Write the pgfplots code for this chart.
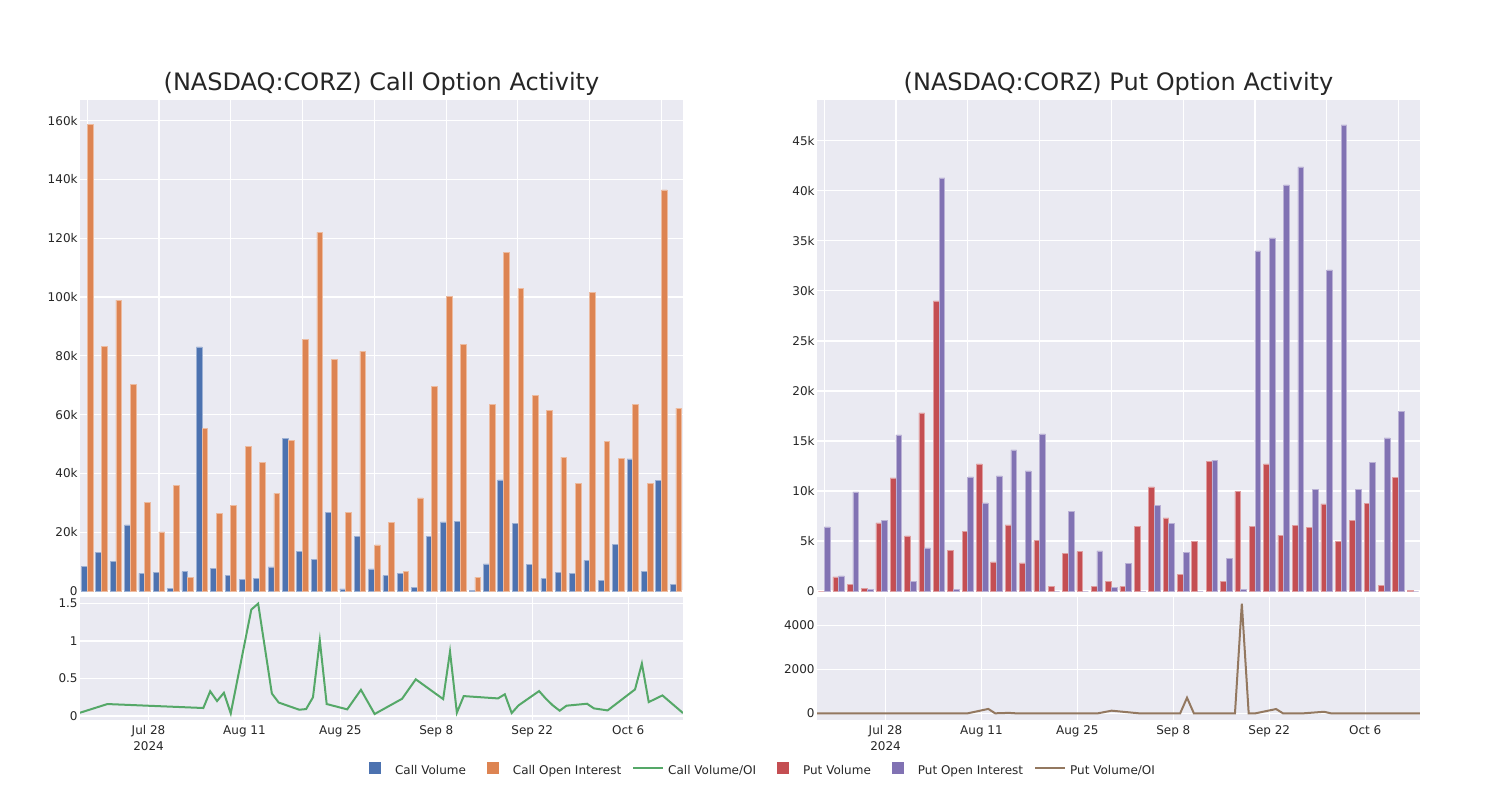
\documentclass[border=0pt]{standalone}
\usepackage{pgfplots}
\usepackage{pgfplotstable}
\pgfplotsset{compat=1.18}
\usepackage{fontspec}
\setmainfont{DejaVu Sans}

\definecolor{cvol}{HTML}{4C72B0}
\definecolor{coi}{HTML}{DD8452}
\definecolor{cratio}{HTML}{55A868}
\definecolor{pvol}{HTML}{C44E52}
\definecolor{poi}{HTML}{8172B3}
\definecolor{pratio}{HTML}{937860}
\definecolor{bg}{HTML}{EAEAF2}
\definecolor{txt}{HTML}{262626}

% one row per trading day (category index), counts of contracts
\pgfplotstableread{
cat cvol coi pvol poi
0 8300 158800 0 6400
1 13200 83200 1400 1500
2 10100 98900 700 9900
3 22500 70200 230 130
4 6000 30100 6800 7070
5 6200 20100 11300 15600
6 1000 35900 5500 1000
7 6600 4500 17800 4300
8 83000 55400 29000 41300
9 7800 26500 4070 170
10 5200 29000 5970 11400
11 4000 49200 12700 8800
12 4200 43700 2900 11500
13 8200 33200 6600 14100
14 52000 51200 2800 12000
15 13500 85700 5070 15700
16 10800 122000 430 0
17 26600 78900 3770 7970
18 700 26800 3930 0
19 18600 81600 430 4000
20 7500 15700 930 370
21 5200 23400 430 2770
22 5900 6800 6430 0
23 1200 31700 10400 8570
24 18500 69600 7300 6730
25 23500 100200 1630 3870
26 23700 83800 4930 0
27 100 4700 12970 13070
28 9200 63400 970 3270
29 37800 115100 9970 130
30 23100 102900 6430 34000
31 9000 66500 12700 35300
32 4200 61500 5570 40600
33 6200 45500 6530 42400
34 5900 36500 6330 10130
35 10400 101500 8700 32100
36 3600 50800 4930 46600
37 15800 45000 7070 10170
38 44900 63600 8730 12870
39 6600 36700 600 15300
40 37600 136400 11370 17970
41 2300 62200 30 0
}\bars

% day = days after Jul 28 2024
\pgfplotstableread{
day cratio pratio
-10 0.044 0
-6 0.16 0
8 0.107 0
9 0.33 0
10 0.20 0
11 0.31 0
12 0.035 0
15 1.42 200
16 1.50 0
18 0.30 20
19 0.18 0
22 0.084 0
23 0.093 0
24 0.25 0
25 1.01 0
26 0.16 0
29 0.089 0
31 0.35 0
33 0.027 120
37 0.23 0
39 0.49 0
43 0.226 0
44 0.86 710
45 0.044 0
46 0.266 0
51 0.235 0
52 0.29 5000
53 0.04 0
54 0.142 0
57 0.333 195
58 0.23 0
59 0.142 0
60 0.071 0
61 0.138 0
64 0.164 70
65 0.102 0
67 0.075 0
71 0.355 0
72 0.70 0
73 0.186 0
75 0.275 0
78 0.04 0
}\ratios

\pgfplotsset{
  panel/.style={
    scale only axis, width=301.5pt,
    axis background/.style={fill=bg},
    axis line style={draw=none},
    grid=major, major grid style={white, line width=0.6pt},
    major tick length=0pt, tick style={draw=none},
    scaled y ticks=false,
    ticklabel style={font=\fontsize{6}{8}\selectfont, text=txt},
    yticklabel style={inner xsep=1pt},
    xticklabel style={inner ysep=2.5pt, align=center},
    title style={at={(0.5,1)}, anchor=center, yshift=2pt,
      font=\fontsize{12}{14}\selectfont, text=txt},
  },
  top/.style={panel, height=245.5pt, xmin=-0.5, xmax=41.5, ymin=0,
    xtick={0,5,...,40}, xticklabels={}},
  bottom/.style={panel, height=61.5pt, xmin=-10, xmax=78,
    xtick={0,14,28,42,56,70},
    xticklabels={{Jul 28\\2024},Aug 11,Aug 25,Sep 8,Sep 22,Oct 6}},
  barL/.style={ybar, bar width=0.4, bar shift=-0.2, line width=0.3pt},
  barR/.style={ybar, bar width=0.4, bar shift=0.2, line width=0.3pt},
  sqleg/.style={legend image code/.code={
    \path[draw=none, fill=none] (0pt,0pt) -- (20pt,0pt);
    \fill[draw=none, fill=#1] (7pt,-3pt) rectangle (13pt,3pt);}},
  lnleg/.style={legend image code/.code={
    \path[draw=none, fill=none] (0pt,0pt) -- (20pt,0pt);
    \draw[draw=#1, fill=none, line width=1pt] (2.5pt,0pt) -- (17.5pt,0pt);}},
}

\begin{document}
\begin{tikzpicture}
\useasboundingbox (0,0) rectangle (750pt,400pt);

\begin{axis}[top, at={(40pt,104.5pt)}, anchor=south west, ymax=167000,
  ytick={0,20000,...,160000},
  yticklabels={0,20k,40k,60k,80k,100k,120k,140k,160k},
  title={(NASDAQ:CORZ) Call Option Activity}]
\addplot[barL, fill=cvol, draw=cvol!55!white] table[x=cat,y=cvol]{\bars};
\addplot[barR, fill=coi, draw=coi!55!white] table[x=cat,y=coi]{\bars};
\end{axis}

\begin{axis}[bottom, at={(40pt,40pt)}, anchor=south west,
  ymin=-0.053, ymax=1.588, ytick={0,0.5,1,1.5},
  yticklabels={0,0.5,1,1.5}]
\addplot[cratio, line width=1pt] table[x=day,y=cratio]{\ratios};
\end{axis}

\begin{axis}[top, at={(408.5pt,104.5pt)}, anchor=south west, ymax=49080,
  ytick={0,5000,...,45000},
  yticklabels={0,5k,10k,15k,20k,25k,30k,35k,40k,45k},
  title={(NASDAQ:CORZ) Put Option Activity}]
\addplot[barL, fill=pvol, draw=pvol!55!white] table[x=cat,y=pvol]{\bars};
\addplot[barR, fill=poi, draw=poi!55!white] table[x=cat,y=poi]{\bars};
\end{axis}

\begin{axis}[bottom, at={(408.5pt,40pt)}, anchor=south west,
  ymin=-305, ymax=5300, ytick={0,2000,4000},
  yticklabels={0,2000,4000},
  legend columns=6,
  legend style={at={(rel axis cs:-0.1028,-0.39)}, anchor=center,
    draw=none, fill=none, font=\fontsize{6}{7}\selectfont, text=txt,
    /tikz/every even column/.append style={column sep=3.5pt},
    nodes={inner xsep=0pt, text height=1.6ex, text depth=0.4ex}},
  legend cell align=left]
\addplot[pratio, line width=1pt, forget plot] table[x=day,y=pratio]{\ratios};
\addlegendimage{sqleg=cvol}
\addlegendimage{sqleg=coi}
\addlegendimage{lnleg=cratio}
\addlegendimage{sqleg=pvol}
\addlegendimage{sqleg=poi}
\addlegendimage{lnleg=pratio}
\legend{Call Volume, Call Open Interest, Call Volume/OI,
  Put Volume, Put Open Interest, Put Volume/OI}
\end{axis}
\end{tikzpicture}
\end{document}
